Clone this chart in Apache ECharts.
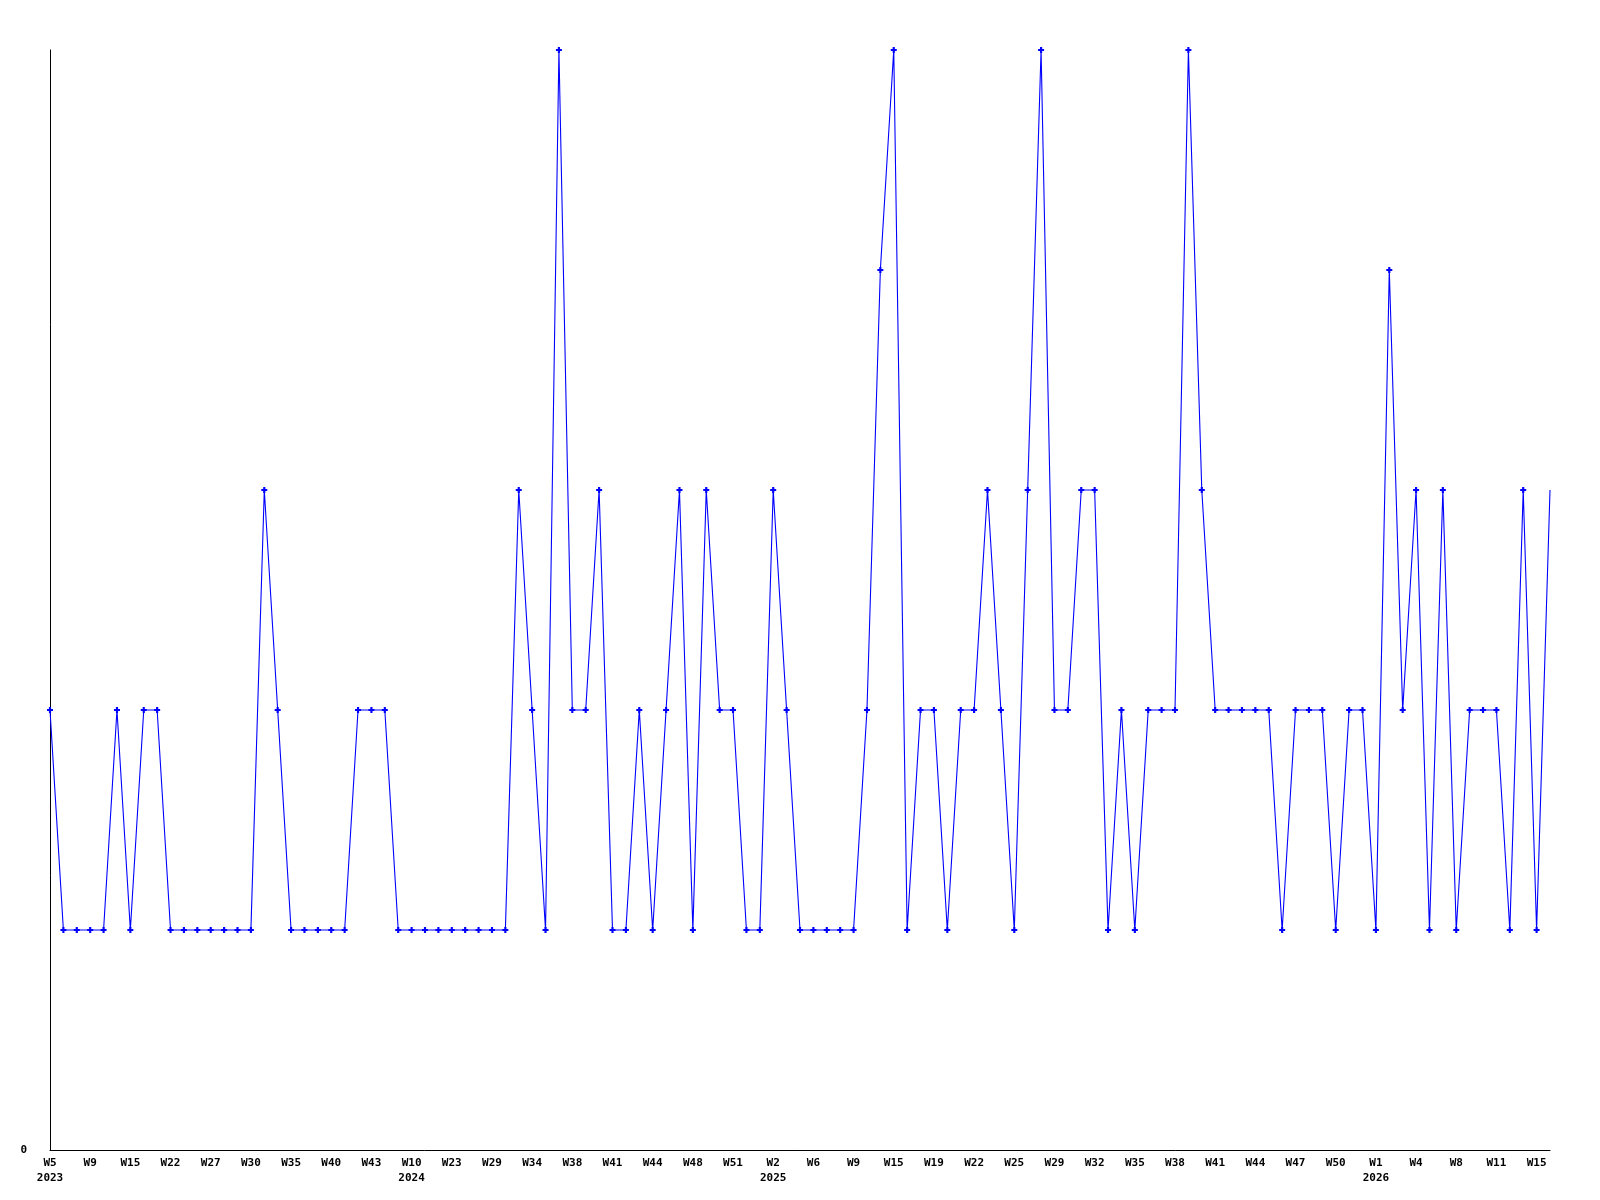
<!DOCTYPE html>
<html>
<head>
<meta charset="utf-8">
<script src="https://cdn.jsdelivr.net/npm/echarts@6/dist/echarts.min.js"></script>
<style>
  html, body { margin: 0; padding: 0; background: #fff; }
  #chart { width: 1600px; height: 1200px; }
</style>
</head>
<body>
<div id="chart"></div>
<script>
// weeks with data (only every 3rd one is labelled on the axis)
const weeks = [
  '2023-W5', '2023-W6', '2023-W8', '2023-W9', '2023-W11', '2023-W13', '2023-W15', '2023-W17', '2023-W20',
  '2023-W22', '2023-W24', '2023-W26', '2023-W27', '2023-W28', '2023-W29', '2023-W30', '2023-W31', '2023-W33',
  '2023-W35', '2023-W37', '2023-W38', '2023-W40', '2023-W41', '2023-W42', '2023-W43', '2023-W46', '2023-W50',
  '2024-W10', '2024-W14', '2024-W19', '2024-W23', '2024-W25', '2024-W27', '2024-W29', '2024-W31', '2024-W33',
  '2024-W34', '2024-W36', '2024-W37', '2024-W38', '2024-W39', '2024-W40', '2024-W41', '2024-W42', '2024-W43',
  '2024-W44', '2024-W46', '2024-W47', '2024-W48', '2024-W49', '2024-W50', '2024-W51', '2024-W52',
  '2025-W1', '2025-W2', '2025-W3', '2025-W4', '2025-W6', '2025-W7', '2025-W8', '2025-W9', '2025-W12',
  '2025-W14', '2025-W15', '2025-W16', '2025-W18', '2025-W19', '2025-W20', '2025-W21', '2025-W22', '2025-W23',
  '2025-W24', '2025-W25', '2025-W26', '2025-W28', '2025-W29', '2025-W30', '2025-W31', '2025-W32', '2025-W33',
  '2025-W34', '2025-W35', '2025-W36', '2025-W37', '2025-W38', '2025-W39', '2025-W40', '2025-W41', '2025-W42',
  '2025-W43', '2025-W44', '2025-W45', '2025-W46', '2025-W47', '2025-W48', '2025-W49', '2025-W50', '2025-W51',
  '2025-W52',
  '2026-W1', '2026-W2', '2026-W3', '2026-W4', '2026-W5', '2026-W7', '2026-W8', '2026-W9', '2026-W10',
  '2026-W11', '2026-W12', '2026-W14', '2026-W15', '2026-W16'
]

const counts = [
  2, 1, 1, 1, 1, 2, 1, 2, 2, 1,
  1, 1, 1, 1, 1, 1, 3, 2, 1, 1,
  1, 1, 1, 2, 2, 2, 1, 1, 1, 1,
  1, 1, 1, 1, 1, 3, 2, 1, 5, 2,
  2, 3, 1, 1, 2, 1, 2, 3, 1, 3,
  2, 2, 1, 1, 3, 2, 1, 1, 1, 1,
  1, 2, 4, 5, 1, 2, 2, 1, 2, 2,
  3, 2, 1, 3, 5, 2, 2, 3, 3, 1,
  2, 1, 2, 2, 2, 5, 3, 2, 2, 2,
  2, 2, 1, 2, 2, 2, 1, 2, 2, 1,
  4, 2, 3, 1, 3, 1, 2, 2, 2, 1,
  3, 1, 3
]

const yMin = 0
const yMax = 5

const font = 'DejaVu Sans Mono'
const chart = echarts.init(document.getElementById('chart'))

chart.setOption({
  animation: false,
  backgroundColor: '#fff',
  grid: {
    left: 50,
    right: 50,
    top: 50,
    bottom: 50,
    containLabel: false,
    outerBoundsMode: 'none'
  },
  xAxis: {
    type: 'category',
    boundaryGap: false,
    data: weeks,
    axisLine: { lineStyle: { color: '#000', width: 1 } },
    axisTick: { show: false },
    splitLine: { show: false },
    axisLabel: {
      interval: 2,
      margin: 6,
      color: '#000',
      fontFamily: font,
      fontWeight: 'bold',
      fontSize: 11,
      lineHeight: 15,
      formatter: function (value, index) {
        const [year, week] = value.split('-')
        const prev = index >= 3 ? weeks[index - 3].split('-')[0] : null
        return prev === year ? week : week + '\n' + year
      }
    }
  },
  yAxis: {
    type: 'value',
    min: yMin,
    max: yMax,
    interval: 5,
    axisLine: { show: true, lineStyle: { color: '#000', width: 1 } },
    axisTick: { show: false },
    splitLine: { show: false },
    axisLabel: {
      margin: 23,
      color: '#000',
      fontFamily: font,
      fontWeight: 'bold',
      fontSize: 11,
      formatter: v => (v === 0 ? '0' : '')
    }
  },
  series: [
    {
      type: 'line',
      // last point is drawn without a marker
      data: counts.map((v, i) => (i === counts.length - 1 ? { value: v, symbol: 'none' } : v)),
      symbol: 'path://M1.6,0H3.4V1.6H5V3.4H3.4V5H1.6V3.4H0V1.6H1.6Z',
      symbolSize: 6,
      showAllSymbol: true,
      itemStyle: { color: '#0000ff' },
      lineStyle: { color: '#0000ff', width: 1.1 },
      emphasis: { disabled: true }
    }
  ]
})
</script>
</body>
</html>
